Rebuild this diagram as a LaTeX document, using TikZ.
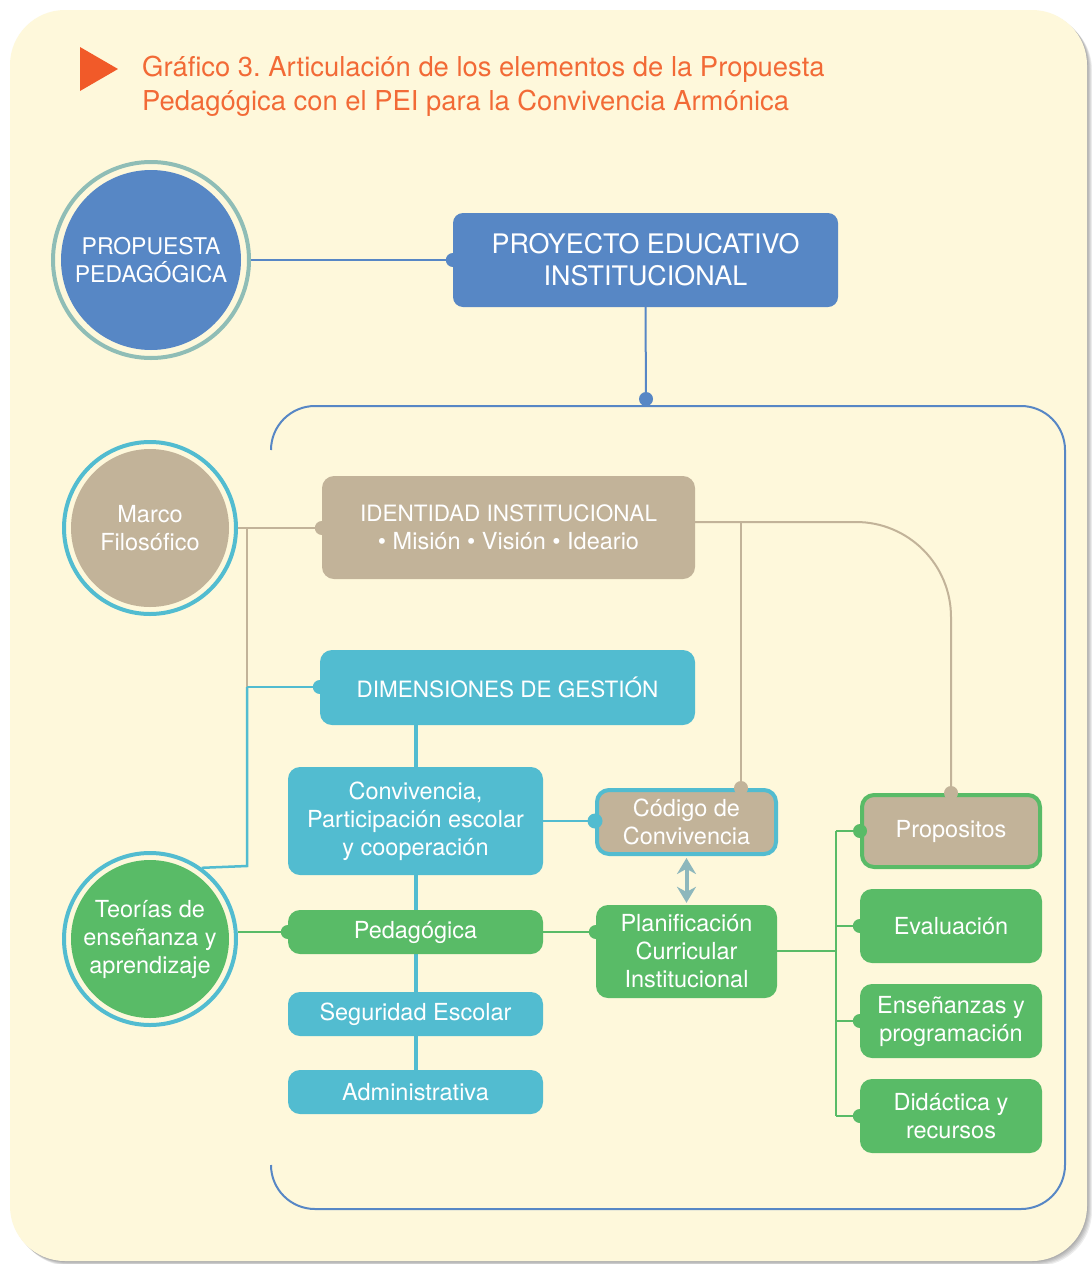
\documentclass[tikz,border=0pt]{standalone}
\usepackage{fontspec}
\setmainfont{TeX Gyre Heros}
\usetikzlibrary{arrows.meta}
\pgfdeclarelayer{bg}\pgfdeclarelayer{lines}
\pgfsetlayers{bg,lines,main}
\frenchspacing
\definecolor{cream}{HTML}{FEF8DB}
\definecolor{pblue}{HTML}{5787C5}
\definecolor{ringteal}{HTML}{8FBDB6}
\definecolor{pcyan}{HTML}{52BCD0}
\definecolor{ptan}{HTML}{C2B399}
\definecolor{pgreen}{HTML}{59BB67}
\definecolor{porange}{HTML}{F15A29}
\definecolor{ptitle}{HTML}{F26A36}
\definecolor{parrow}{HTML}{8DB7BC}
\tikzset{
  txt/.style={text=white, align=center, font=\fontsize{23.5}{28}\selectfont},
  caps/.style={font=\fontsize{22.5}{28}\selectfont},
  box/.style={txt, rectangle, rounded corners=12, inner sep=0pt},
  ring/.style={circle, line width=4pt, inner sep=0pt},
  disc/.style={circle, txt, inner sep=0pt},
  conn/.style={line width=2pt},
  trunk/.style={line width=4pt},
  dot/.style={radius=7pt},
}
\begin{document}
\begin{tikzpicture}[x=1pt,y=-1pt]
\useasboundingbox (0,0) rectangle (1092,1264);
\begin{pgfonlayer}{bg}
  \fill[white] (0,0) rectangle (1092,1264);
  \foreach \s in {1,...,5}
    \fill[black, opacity=0.07, rounded corners=55] (10+\s,10+\s) rectangle (1087+\s,1261+\s);
  \fill[cream, rounded corners=55] (10,10) rectangle (1087,1261);
  \fill[porange] (80,47) -- (118,69) -- (80,91) -- cycle;
  \draw[pblue, line width=2pt, rounded corners=44]
    (271,450) -- (271,406) -- (1065,406) -- (1065,1209) -- (271,1209) -- (271,1165);
\end{pgfonlayer}

% title
\node[anchor=base west, align=left, text=ptitle, inner sep=0pt,
      font=\fontsize{27.4}{34}\selectfont] (title) at (142,110)
  {Gráfico 3. Articulación de los elementos de la Propuesta\\Pedagógica con el PEI para la Convivencia Armónica};

% circles
\node[ring, draw=ringteal, minimum size=196] (ppR) at (151,260) {};
\node[disc, font=\fontsize{23}{28}\selectfont, fill=pblue, minimum size=180] (pp) at (151,260) {PROPUESTA\\PEDAGÓGICA};
\node[ring, draw=pcyan, minimum size=172] (mfR) at (150,528) {};
\node[disc, fill=ptan, minimum size=158] (mf) at (150,528) {Marco\\Filosófico};
\node[ring, draw=pcyan, minimum size=172] (teR) at (150,939) {};
\node[disc, fill=pgreen, minimum size=158] (te) at (150,939) {Teorías de\\enseñanza y\\aprendizaje};

% boxes
\node[box, fill=pblue, rounded corners=10, minimum width=385, minimum height=94,
      font=\fontsize{26.9}{32}\selectfont] (pei) at (645.5,260) {PROYECTO EDUCATIVO\\INSTITUCIONAL};
\node[box, fill=ptan, minimum width=373, minimum height=103] (ide) at (508.5,527.5)
  {{\fontsize{22.5}{28}\selectfont IDENTIDAD INSTITUCIONAL}\\• Misión • Visión • Ideario};
\node[box, caps, fill=pcyan, minimum width=375, minimum height=75] (dim) at (507.5,687.5) {DIMENSIONES DE GESTIÓN};
\node[box, fill=pcyan, minimum width=255, minimum height=108] (conv) at (415.5,821)
  {Convivencia,\\Participación escolar\\y cooperación};
\node[box, fill=ptan, draw=pcyan, line width=4pt, minimum width=179, minimum height=64] (cod) at (686.5,822)
  {Código de\\Convivencia};
\node[box, fill=pgreen, minimum width=255, minimum height=44] (ped) at (415.5,932) {Pedagógica};
\node[box, fill=pgreen, minimum width=181, minimum height=93] (plan) at (686.5,951.5)
  {Planificación\\Curricular\\Institucional};
\node[box, fill=pcyan, minimum width=255, minimum height=44] (seg) at (415.5,1014) {Seguridad Escolar};
\node[box, fill=pcyan, minimum width=255, minimum height=44] (adm) at (415.5,1092) {Administrativa};
\node[box, fill=ptan, draw=pgreen, line width=4pt, minimum width=178, minimum height=72] (prop) at (951,831) {Propositos};
\node[box, fill=pgreen, minimum width=182, minimum height=74] (eva) at (951,926) {Evaluación};
\node[box, fill=pgreen, minimum width=182, minimum height=74] (ens) at (951,1021) {Enseñanzas y\\programación};
\node[box, fill=pgreen, minimum width=182, minimum height=74] (did) at (951,1116) {Didáctica y\\recursos};

% junction coordinates
\coordinate (frameTop) at (646,399);
\coordinate (j1) at (247,527);
\coordinate (j2) at (247,687);
\coordinate (j3) at (247,866);
\coordinate (k1) at (741,522);
\coordinate (tr) at (836,951);

\begin{pgfonlayer}{lines}
  \draw[conn, pblue] (ppR.east) -- (pei.west);
  \draw[conn, pblue] (pei.south) -- (frameTop);
  \draw[conn, ptan] (mfR.east) -- (mfR.east -| ide.west);
  \draw[conn, ptan] (j1) -- (j2);
  \draw[conn, pcyan, line width=2.5pt] (j2) -- (j3) -- (teR.54);
  \draw[conn, pcyan, line width=2.5pt] (j2) -- (j2 -| dim.west);
  \draw[conn, ptan, rounded corners=95] (ide.east |- k1) -- (k1 -| prop.north) -- (prop.north);
  \draw[conn, ptan] (k1) -- (k1 |- cod.north);
  \draw[trunk, pcyan] (conv.center |- dim.south) -- (adm.north);
  \draw[conn, pcyan, line width=2.5pt] (conv.east) -- (conv.east -| cod.west);
  \draw[conn, pgreen, line width=2.5pt] (teR.east |- ped.west) -- (ped.west);
  \draw[conn, pgreen, line width=2.5pt] (ped.east) -- (ped.east -| plan.west);
  \draw[conn, pgreen] (plan.east |- tr) -- (tr);
  \draw[conn, pgreen] (tr |- prop.west) -- (tr |- did.west);
  \foreach \b in {prop,eva,ens,did}
    \draw[conn, pgreen] (tr |- \b.west) -- (\b.west);
\end{pgfonlayer}
\draw[parrow, line width=4pt, {Stealth[length=16pt,width=19pt]}-{Stealth[length=16pt,width=19pt]}]
  ([yshift=-2pt]cod.south) -- ([yshift=2pt]plan.north);

% dots
\fill[pblue] (pei.west) circle[dot];
\fill[pblue] (frameTop) circle[dot];
\fill[ptan] (mfR.east -| ide.west) circle[dot];
\fill[pcyan] (j2 -| dim.west) circle[dot];
\fill[ptan] (k1 |- cod.north) circle[dot];
\fill[ptan] (prop.north) circle[dot];
\fill[pcyan] (conv.east -| cod.west) circle[radius=7.5pt];
\fill[pgreen] (ped.west) circle[dot];
\fill[pgreen] (ped.east -| plan.west) circle[dot];
\foreach \b in {prop,eva,ens,did}
  \fill[pgreen] (\b.west) circle[dot];
\end{tikzpicture}
\end{document}
